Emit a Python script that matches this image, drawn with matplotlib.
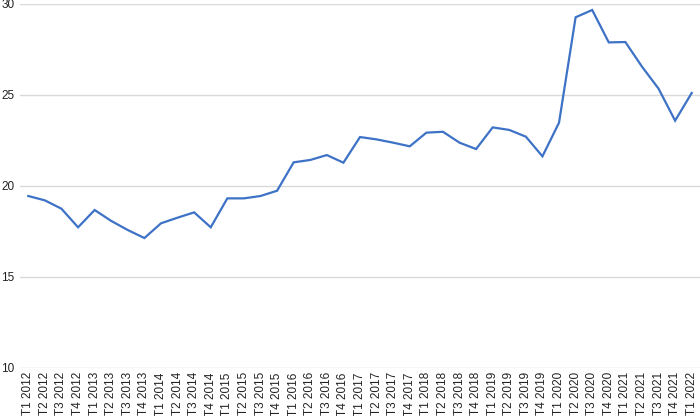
import matplotlib
matplotlib.use("Agg")
import matplotlib.pyplot as plt

plt.rcParams['font.family'] = ['Liberation Sans', 'DejaVu Sans']

quarters = ["T1", "T2", "T3", "T4"]
labels = [f"{q} {y}" for y in range(2012, 2022) for q in quarters] + ["T1 2022"]

values = [19.45, 19.21, 18.75, 17.73, 18.68, 18.08, 17.58, 17.14,
          17.95, 18.26, 18.55, 17.73, 19.32, 19.32, 19.45, 19.74,
          21.30, 21.43, 21.70, 21.28, 22.69, 22.56, 22.38, 22.18,
          22.93, 22.98, 22.38, 22.03, 23.22, 23.08, 22.71, 21.63,
          23.48, 29.27, 29.67, 27.89, 27.91, 26.56, 25.35, 23.59,
          25.11]

yticks = [10, 15, 20, 25, 30]

fig = plt.figure(figsize=(7, 4.16), dpi=100)
ax = fig.add_axes([0.0286, 0.1154, 0.9714, 0.875])

x = list(range(len(labels)))
ax.plot(x, values, color="#3d72c6", linewidth=1.6, solid_joinstyle="miter")

ax.set_ylim(10, 30)
ax.set_xlim(-0.5, len(labels) - 0.5)
ax.set_yticks(yticks)
ax.set_yticklabels([str(v) for v in yticks], fontsize=8.5, color="#222222")
ax.set_xticks(x)
ax.set_xticklabels(labels, rotation=90, fontsize=8.5, color="#222222")

ax.grid(axis="y", color="#d9d9d9", linewidth=1)
ax.set_axisbelow(True)
ax.tick_params(length=0, pad=4)
ax.tick_params(axis="x", pad=3)
for s in ax.spines.values():
    s.set_visible(False)

fig.savefig("out.png", dpi=100)
